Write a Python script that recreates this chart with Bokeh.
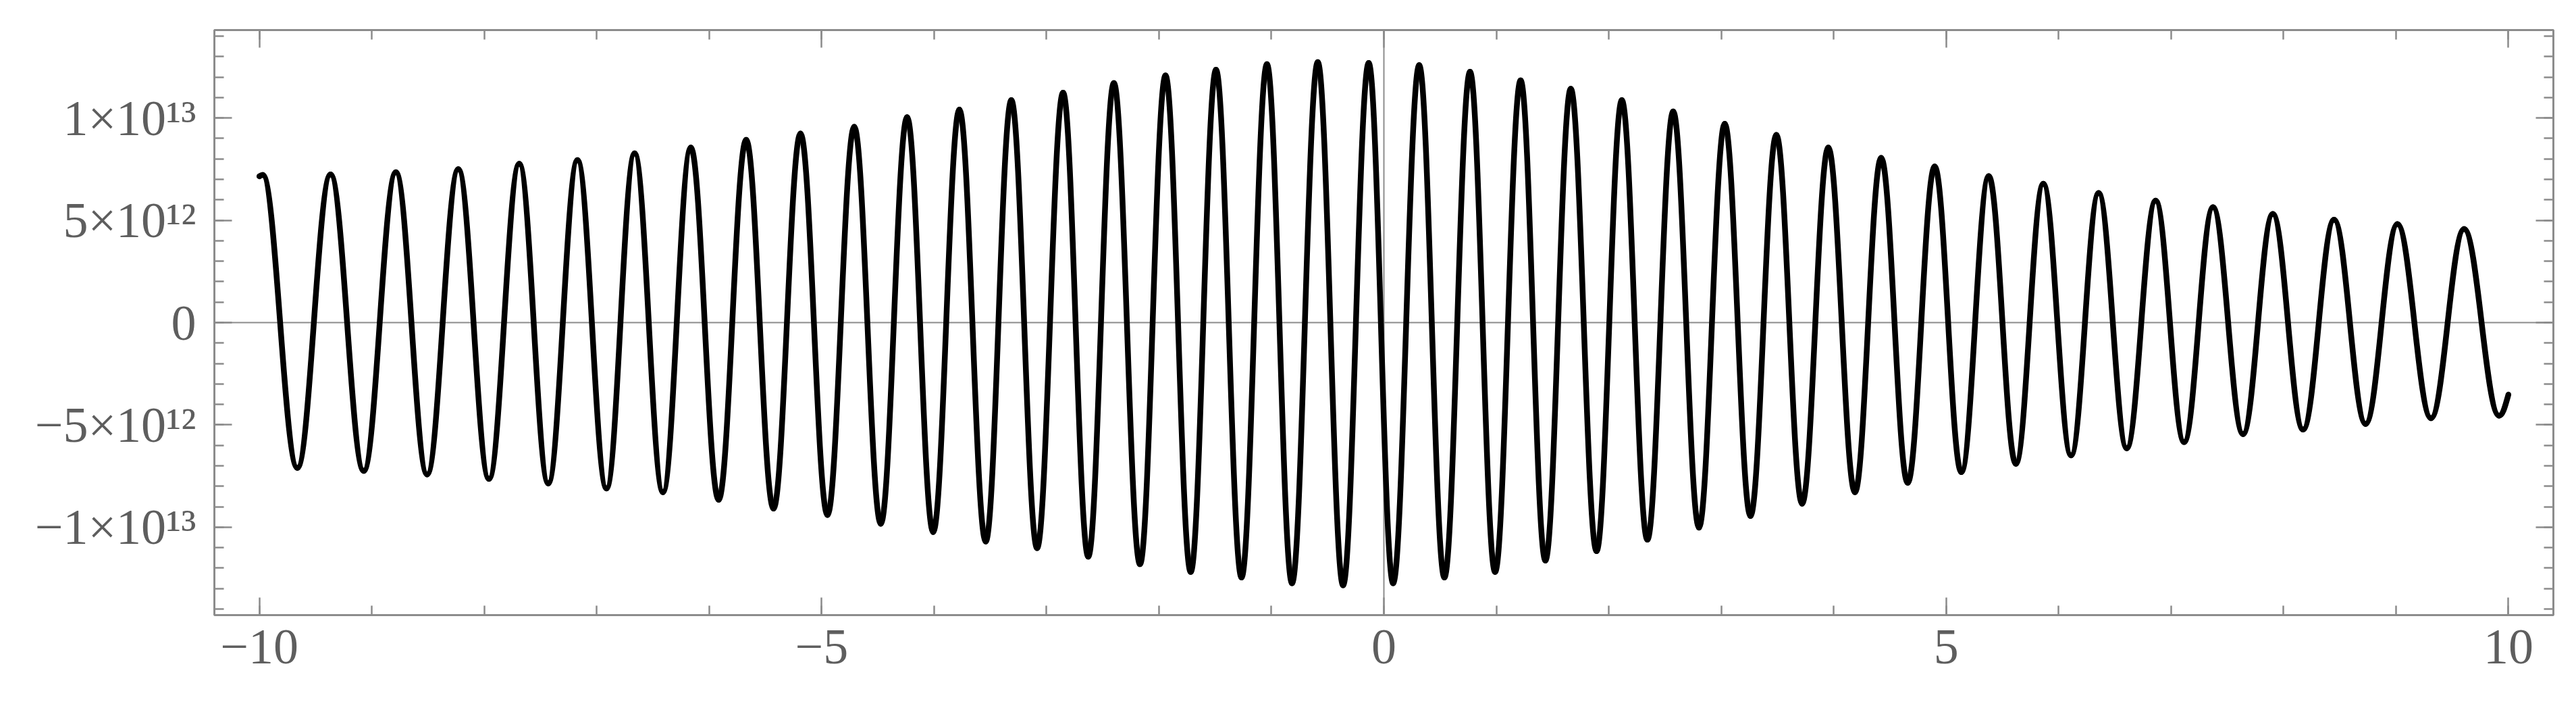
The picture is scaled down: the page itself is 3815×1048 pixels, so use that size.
from bokeh.plotting import figure
from bokeh.models import (Range1d, LinearAxis, FixedTicker, CustomJSTickFormatter,
                          Span, ColumnDataSource)
from bokeh.embed import file_html
from bokeh.resources import INLINE

# ---------------- data ----------------
SCALE = 1e12  # y values below are in units of 10^12

start_x, start_y = -10.0, 7.15
end_x, end_y = 10.0, -3.52

peak_x = [-9.97, -9.367, -8.786, -8.231, -7.689, -7.171, -6.663, -6.163, -5.671, -5.188,
          -4.710, -4.240, -3.775, -3.313, -2.853, -2.401, -1.942, -1.493, -1.040, -0.588,
          -0.135, 0.314, 0.766, 1.216, 1.662, 2.116, 2.573, 3.031, 3.490, 3.952,
          4.422, 4.898, 5.379, 5.864, 6.356, 6.863, 7.373, 7.905, 8.450, 9.013, 9.606]
peak_y = [7.22, 7.24, 7.35, 7.50, 7.76, 7.94, 8.27, 8.55, 8.93, 9.24,
          9.57, 10.04, 10.41, 10.87, 11.24, 11.71, 12.08, 12.36, 12.63, 12.73,
          12.69, 12.58, 12.26, 11.84, 11.43, 10.87, 10.32, 9.72, 9.17, 8.55,
          8.05, 7.63, 7.16, 6.79, 6.33, 5.96, 5.64, 5.31, 5.03, 4.81, 4.57]

trough_x = [-9.662, -9.072, -8.508, -7.958, -7.431, -6.913, -6.411, -5.916, -5.428, -4.948,
            -4.474, -4.008, -3.541, -3.084, -2.629, -2.169, -1.718, -1.266, -0.817, -0.363,
            0.082, 0.538, 0.989, 1.436, 1.891, 2.343, 2.802, 3.260, 3.719, 4.189,
            4.658, 5.135, 5.620, 6.111, 6.606, 7.116, 7.640, 8.174, 8.730, 9.312, 9.917]
trough_y = [-7.10, -7.25, -7.42, -7.64, -7.86, -8.11, -8.29, -8.66, -9.09, -9.40,
            -9.83, -10.24, -10.70, -11.02, -11.44, -11.81, -12.19, -12.46, -12.74, -12.84,
            -12.74, -12.46, -12.19, -11.63, -11.17, -10.61, -10.02, -9.45, -8.85, -8.29,
            -7.83, -7.31, -6.90, -6.49, -6.14, -5.84, -5.45, -5.23, -4.95, -4.67, -4.55]

x_ticks = [-10, -5, 0, 5, 10]
x_tick_labels = ["\u221210", "\u22125", "0", "5", "10"]
x_minor = list(range(-10, 11))
y_ticks = [-1e13, -5e12, 0, 5e12, 1e13]
y_tick_labels = ["\u22121\u00d710\u00b9\u00b3", "\u22125\u00d710\u00b9\u00b2", "0",
                 "5\u00d710\u00b9\u00b2", "1\u00d710\u00b9\u00b3"]
y_minor = [k * 1e12 for k in range(-14, 15)]

# ---------------- curve: smooth half-waves between read extrema ----------------
ext_x, ext_y = [], []
for i in range(len(peak_x)):
    ext_x += [peak_x[i], trough_x[i]]
    ext_y += [peak_y[i] * SCALE, trough_y[i] * SCALE]

K = 0.37
seg = dict(x0=[], y0=[], x1=[], y1=[], cx0=[], cy0=[], cx1=[], cy1=[])

def add(x0, y0, x1, y1, cx0, cy0, cx1, cy1):
    for k, v in zip(seg.keys(), (x0, y0, x1, y1, cx0, cy0, cx1, cy1)):
        seg[k].append(v)

# start -> first peak
sx, sy = start_x, start_y * SCALE
dx = ext_x[0] - sx
add(sx, sy, ext_x[0], ext_y[0], sx + dx / 3, sy + (ext_y[0] - sy) * 0.6,
    ext_x[0] - dx / 3, ext_y[0])
# extremum -> extremum
for i in range(len(ext_x) - 1):
    x0, y0, x1, y1 = ext_x[i], ext_y[i], ext_x[i + 1], ext_y[i + 1]
    d = x1 - x0
    add(x0, y0, x1, y1, x0 + K * d, y0, x1 - K * d, y1)
# last trough -> end
ex, ey = end_x, end_y * SCALE
x0, y0 = ext_x[-1], ext_y[-1]
d = ex - x0
add(x0, y0, ex, ey, x0 + 0.4 * d, y0, ex - 0.35 * d, ey - (ey - y0) * 0.55)

src = ColumnDataSource(seg)

# ---------------- figure ----------------
GRAY = "#8c8c8c"
LABEL = "#5e5e5e"

p = figure(width=3799, height=1032,
           x_range=Range1d(-10.4, 10.4), y_range=Range1d(-1.43e13, 1.43e13),
           x_axis_type=None, y_axis_type=None,
           output_backend="svg", toolbar_location=None,
           min_border_left=317, min_border_right=18, min_border_top=44, min_border_bottom=122,
           background_fill_color="white", border_fill_color="white")
p.grid.visible = False
p.outline_line_color = GRAY
p.outline_line_width = 3

p.add_layout(Span(location=0, dimension="width", line_color=GRAY, line_width=2, level="underlay"))
p.add_layout(Span(location=0, dimension="height", line_color=GRAY, line_width=2, level="underlay"))

p.bezier(x0="x0", y0="y0", x1="x1", y1="y1", cx0="cx0", cy0="cy0", cx1="cx1", cy1="cy1",
         source=src, line_color="black", line_width=8.5, line_cap="round")

xt = FixedTicker(ticks=x_ticks, minor_ticks=x_minor)
yt = FixedTicker(ticks=y_ticks, minor_ticks=y_minor)

fmt_code = """
for (let i = 0; i < vals.length; i++) {
  if (Math.abs(tick - vals[i]) <= Math.abs(vals[i]) * 1e-9 + 1e-9) { return labs[i]; }
}
return '';
"""
xf = CustomJSTickFormatter(args=dict(vals=x_ticks, labs=x_tick_labels), code=fmt_code)
yf = CustomJSTickFormatter(args=dict(vals=y_ticks, labs=y_tick_labels), code=fmt_code)
blank = CustomJSTickFormatter(code="return '';")

def style(ax):
    ax.axis_line_color = None
    ax.major_tick_line_color = GRAY
    ax.major_tick_line_width = 2.5
    ax.minor_tick_line_color = GRAY
    ax.minor_tick_line_width = 2.5
    ax.major_tick_in = 26
    ax.major_tick_out = 0
    ax.minor_tick_in = 14
    ax.minor_tick_out = 0
    ax.major_label_text_font = "Liberation Serif"
    ax.major_label_text_font_size = "74px"
    ax.major_label_text_color = LABEL

bottom = LinearAxis(ticker=xt, formatter=xf, major_label_standoff=22)
left = LinearAxis(ticker=yt, formatter=yf, major_label_standoff=27)
top = LinearAxis(ticker=xt, formatter=blank, major_label_standoff=0)
right = LinearAxis(ticker=yt, formatter=blank, major_label_standoff=0)
for ax in (bottom, left, top, right):
    style(ax)
p.add_layout(bottom, "below")
p.add_layout(left, "left")
p.add_layout(top, "above")
p.add_layout(right, "right")

open("out.html", "w").write(file_html(p, INLINE))
